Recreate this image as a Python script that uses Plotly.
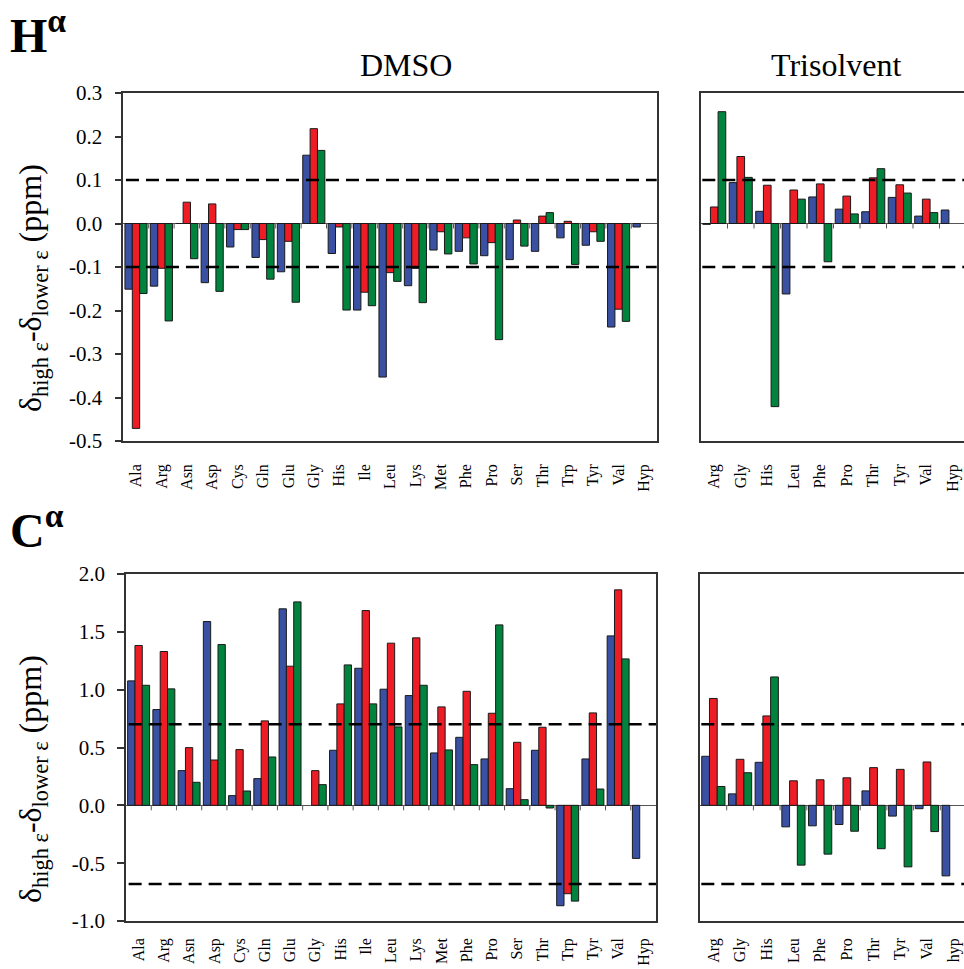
import plotly.graph_objects as go

# ---- categories ----
dmso_cats = ["Ala", "Arg", "Asn", "Asp", "Cys", "Gln", "Glu", "Gly", "His", "Ile",
             "Leu", "Lys", "Met", "Phe", "Pro", "Ser", "Thr", "Trp", "Tyr", "Val", "Hyp"]
tri_cats_h = ["Arg", "Gly", "His", "Leu", "Phe", "Pro", "Thr", "Tyr", "Val", "Hyp"]
tri_cats_c = ["Arg", "Gly", "His", "Leu", "Phe", "Pro", "Thr", "Tyr", "Val", "hyp"]

# ---- H-alpha shift differences (ppm), DMSO ----
h_dmso_blue = [-0.151, -0.144, 0.0, -0.136, -0.054, -0.078, -0.111, 0.157, -0.069, -0.199, -0.353,
               -0.143, -0.061, -0.064, -0.074, -0.083, -0.064, -0.033, -0.050, -0.238, -0.008]
h_dmso_red = [-0.471, -0.103, 0.049, 0.045, -0.014, -0.037, -0.041, 0.218, -0.008, -0.158, -0.113,
              -0.103, -0.019, -0.033, -0.044, 0.008, 0.017, 0.005, -0.019, -0.197, None]
h_dmso_green = [-0.161, -0.224, -0.081, -0.156, -0.014, -0.128, -0.181, 0.168, -0.199, -0.189, -0.133,
                -0.182, -0.070, -0.093, -0.267, -0.052, 0.025, -0.094, -0.041, -0.225, None]

# ---- H-alpha shift differences (ppm), trisolvent ----
h_tri_blue = [-0.002, 0.094, 0.028, -0.162, 0.061, 0.033, 0.027, 0.060, 0.017, 0.031]
h_tri_red = [0.038, 0.154, 0.088, 0.077, 0.091, 0.063, 0.105, 0.089, 0.056, None]
h_tri_green = [0.257, 0.106, -0.421, 0.056, -0.088, 0.022, 0.126, 0.070, 0.025, None]

# ---- C-alpha shift differences (ppm), DMSO ----
c_dmso_blue = [1.076, 0.828, 0.300, 1.589, 0.084, 0.231, 1.699, None, 0.476, 1.185, 1.004,
               0.949, 0.453, 0.588, 0.401, 0.144, 0.476, -0.868, 0.401, 1.465, -0.459]
c_dmso_red = [1.382, 1.330, 0.499, 0.392, 0.482, 0.730, 1.203, 0.300, 0.877, 1.684, 1.402,
              1.448, 0.851, 0.986, 0.796, 0.545, 0.675, -0.764, 0.799, 1.863, None]
c_dmso_green = [1.038, 1.007, 0.199, 1.390, 0.124, 0.418, 1.759, 0.179, 1.214, 0.877, 0.678,
                1.038, 0.479, 0.352, 1.560, 0.049, -0.023, -0.828, 0.141, 1.266, None]

# ---- C-alpha shift differences (ppm), trisolvent ----
c_tri_blue = [0.424, 0.099, 0.372, -0.186, -0.177, -0.166, 0.125, -0.093, -0.029, -0.610]
c_tri_red = [0.924, 0.398, 0.773, 0.212, 0.221, 0.238, 0.326, 0.311, 0.375, None]
c_tri_green = [0.163, 0.282, 1.110, -0.517, -0.422, -0.224, -0.375, -0.532, -0.227, None]

# ---- significance thresholds (ppm) ----
h_limits = [0.10, -0.10]
c_limits = [0.70, -0.68]

# ---- y tick values ----
h_ticks = [0.3, 0.2, 0.1, 0.0, -0.1, -0.2, -0.3, -0.4, -0.5]
c_ticks = [2.0, 1.5, 1.0, 0.5, 0.0, -0.5, -1.0]

COLORS = ["#3A50A3", "#EE1C25", "#00843D"]
FONT = "Liberation Serif"
W, H = 964, 969
BAR_W = 0.29

fig = go.Figure()


def add_group(series, cats, xa, ya, tick_len):
    n = len(cats)
    for i, (vals, col) in enumerate(zip(series, COLORS)):
        fig.add_trace(go.Bar(
            x=list(range(n)), y=vals, width=BAR_W, offset=-1.5 * BAR_W + i * BAR_W,
            marker=dict(color=col, line=dict(color="#1a1a1a", width=1)),
            xaxis=xa, yaxis=ya, showlegend=False, hoverinfo="skip"))
    # short category-separator ticks hanging below the zero line
    xs, ys = [], []
    for k in range(n - 1):
        xs += [k + 0.5, k + 0.5, None]
        ys += [0, -tick_len, None]
    fig.add_trace(go.Scatter(x=xs, y=ys, mode="lines", line=dict(color="#555", width=1),
                             xaxis=xa, yaxis=ya, showlegend=False, hoverinfo="skip"))


add_group([h_dmso_blue, h_dmso_red, h_dmso_green], dmso_cats, "x", "y", 0.0115)
add_group([h_tri_blue, h_tri_red, h_tri_green], tri_cats_h, "x2", "y2", 0.0115)
add_group([c_dmso_blue, c_dmso_red, c_dmso_green], dmso_cats, "x3", "y3", 0.043)
add_group([c_tri_blue, c_tri_red, c_tri_green], tri_cats_c, "x4", "y4", 0.043)

frame = dict(showline=True, linecolor="#333", linewidth=1.5, showgrid=False, automargin=False)


def xax(dom, cats, yanchor, xmax, standoff):
    return dict(domain=dom, anchor=yanchor, range=[-0.5, xmax], tickmode="array",
                tickvals=list(range(len(cats))), ticktext=cats, tickangle=-90,
                ticks="", ticklabelstandoff=standoff, mirror=True, zeroline=False,
                tickfont=dict(family=FONT, size=16, color="black"), **frame)


def yax(dom, rng, ticks, xanchor, labels, mirror):
    d = dict(domain=dom, anchor=xanchor, range=rng, zeroline=True, zerolinecolor="#555",
             zerolinewidth=1, mirror=mirror, **frame)
    if labels:
        d.update(tickmode="array", tickvals=ticks, ticktext=[f"{v:.1f}" for v in ticks],
                 ticks="outside", ticklen=7, tickwidth=1.5, tickcolor="#333",
                 ticklabelstandoff=8, tickfont=dict(family=FONT, size=21, color="black"))
    else:
        d.update(showticklabels=False, ticks="")
    return d


top_dom = [1 - 441 / H, 1 - 93 / H]
bot_dom = [1 - 921 / H, 1 - 574 / H]

fig.update_layout(
    width=W, height=H, margin=dict(l=0, r=0, t=0, b=0, pad=0, autoexpand=False),
    paper_bgcolor="white", plot_bgcolor="white", barmode="overlay",
    font=dict(family=FONT, color="black"),
    xaxis=xax([123.3 / W, 656.7 / W], dmso_cats, "y", 20.5, 15),
    yaxis=yax(top_dom, [-0.5, 0.3], h_ticks, "x", True, True),
    xaxis2=xax([701 / W, 1.0], tri_cats_h, "y2", -0.5 + 263 / 26.5, 15),
    yaxis2=yax(top_dom, [-0.5, 0.3], h_ticks, "x2", False, False),
    xaxis3=xax([126 / W, 656 / W], dmso_cats, "y3", 20.5, 9),
    yaxis3=yax(bot_dom, [-1.0, 2.0], c_ticks, "x3", True, True),
    xaxis4=xax([700 / W, 1.0], tri_cats_c, "y4", -0.5 + 264 / 26.7, 9),
    yaxis4=yax(bot_dom, [-1.0, 2.0], c_ticks, "x4", False, False),
)

# dashed threshold lines
for lims, xa, ya in [(h_limits, "x", "y"), (h_limits, "x2", "y2"),
                     (c_limits, "x3", "y3"), (c_limits, "x4", "y4")]:
    for v in lims:
        fig.add_shape(type="line", xref=f"{xa} domain", yref=ya, x0=0.005, x1=1, y0=v, y1=v,
                      line=dict(color="black", width=2.5, dash="13px,7px"))

ytitle = "δ<sub>high ε</sub>-δ<sub>lower ε</sub> (ppm)"
annos = [
    dict(text="DMSO", x=406 / W, y=1 - 65 / H, font=dict(size=32)),
    dict(text="Trisolvent", x=836 / W, y=1 - 65 / H, font=dict(size=32)),
    dict(text="<b>H<sup>α</sup></b>", x=8 / W, y=1 - 32 / H, xanchor="left", font=dict(size=48)),
    dict(text="<b>C<sup>α</sup></b>", x=8 / W, y=1 - 527 / H, xanchor="left", font=dict(size=48)),
    dict(text=ytitle, x=32 / W, y=1 - 288 / H, textangle=-90, font=dict(size=32)),
    dict(text=ytitle, x=32 / W, y=1 - 779 / H, textangle=-90, font=dict(size=32)),
]
for a in annos:
    base = dict(xref="paper", yref="paper", showarrow=False, xanchor="center", yanchor="middle")
    base.update(a)
    base["font"] = dict(family=FONT, color="black", **a["font"])
    fig.add_annotation(**base)

fig.write_html("out.html")
